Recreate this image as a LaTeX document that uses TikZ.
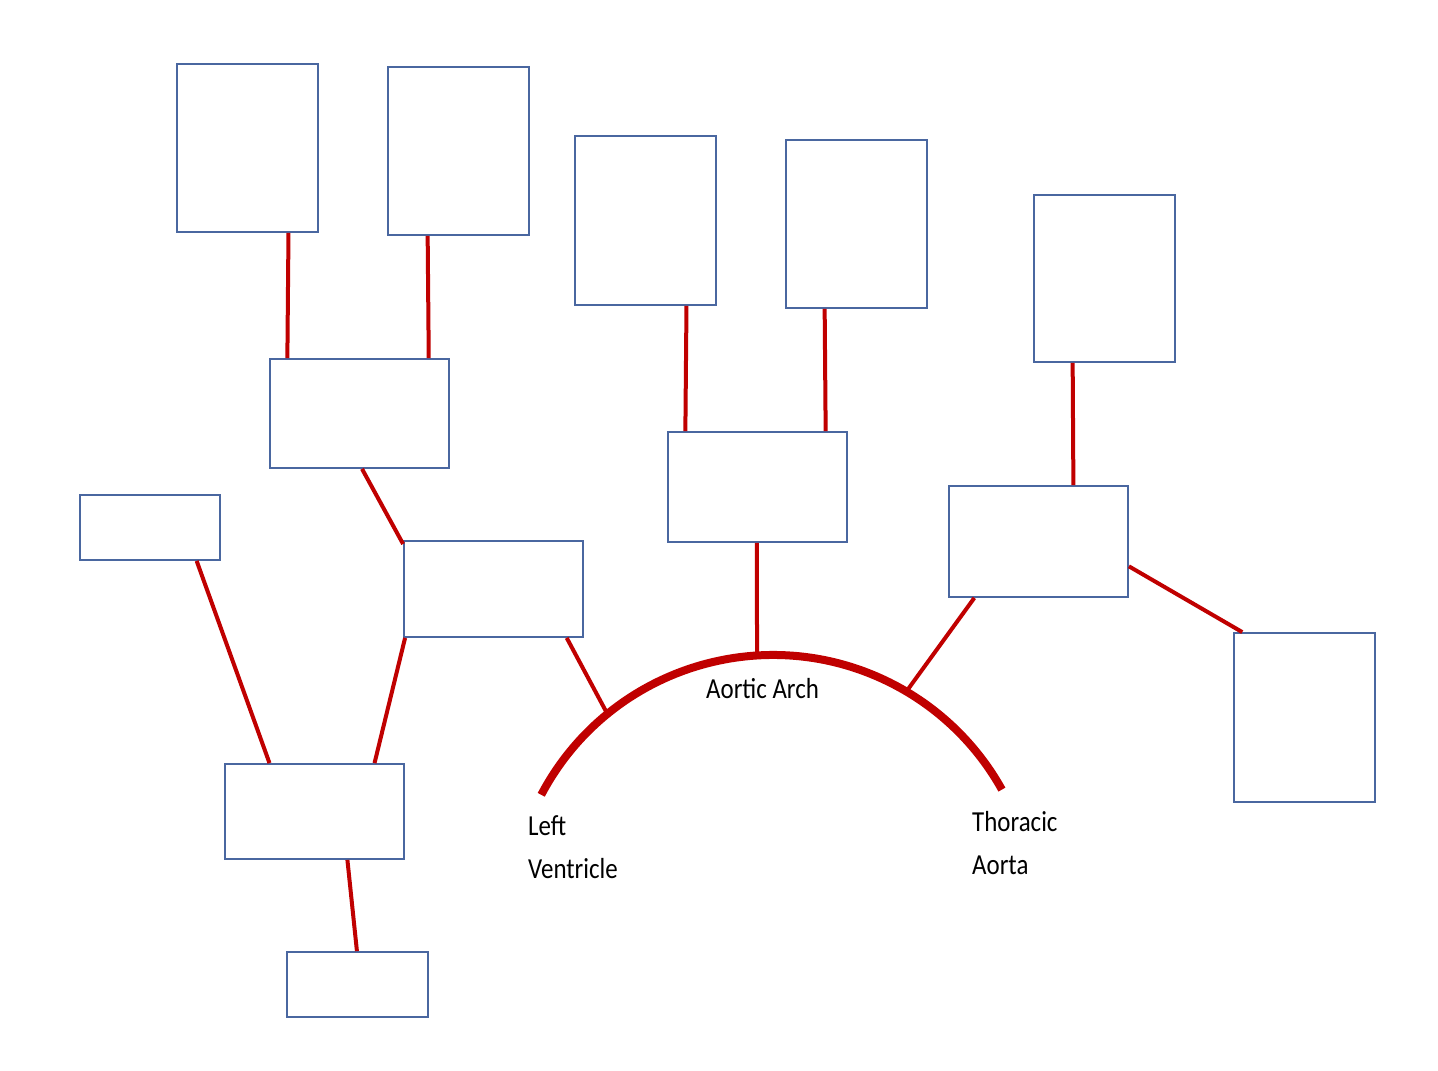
\documentclass[tikz,border=0pt]{standalone}
\usepackage{fontspec}
\setmainfont{Carlito}
\usetikzlibrary{calc}
\definecolor{boxblue}{HTML}{4A67A0}
\definecolor{vred}{HTML}{C00000}
\begin{document}
\begin{tikzpicture}[x=1pt,y=-1pt,
  box/.style={draw=boxblue, line width=1.8pt, fill=white, inner sep=0pt},
  vessel/.style={draw=vred, line width=4pt},
  arch/.style={draw=vred, line width=8pt},
  lbl/.style={inner sep=0pt, font=\fontsize{29}{43}\selectfont, align=left, xscale=0.86, transform shape}]
\useasboundingbox[fill=white] (0,0) rectangle (1438,1071);
% boxes
\node[box, minimum width=141pt, minimum height=168pt] (b1) at (247.5,148) {};
\node[box, minimum width=141pt, minimum height=168pt] (b2) at (458.5,151) {};
\node[box, minimum width=141pt, minimum height=169pt] (b3) at (645.5,220.5) {};
\node[box, minimum width=141pt, minimum height=168pt] (b4) at (856.5,224) {};
\node[box, minimum width=141pt, minimum height=167pt] (b5) at (1104.5,278.5) {};
\node[box, minimum width=179pt, minimum height=109pt] (b6) at (359.5,413.5) {};
\node[box, minimum width=179pt, minimum height=110pt] (b7) at (757.5,487) {};
\node[box, minimum width=179pt, minimum height=111pt] (b8) at (1038.5,541.5) {};
\node[box, minimum width=140pt, minimum height=65pt] (b9) at (150,527.5) {};
\node[box, minimum width=179pt, minimum height=96pt] (b10) at (493.5,589) {};
\node[box, minimum width=179pt, minimum height=95pt] (b11) at (314.5,811.5) {};
\node[box, minimum width=141pt, minimum height=65pt] (b12) at (357.5,984.5) {};
\node[box, minimum width=141pt, minimum height=169pt] (b13) at (1304.5,717.5) {};
% aortic arch
\coordinate (ac) at (773,917);
\coordinate (lv) at ($(ac)+(-152.2:262)$);
\coordinate (j1) at ($(ac)+(-129.2:262)$);
\coordinate (j2) at ($(ac)+(-93.5:262)$);
\coordinate (j3) at ($(ac)+(-59.4:262)$);
\draw[arch] (lv) arc[start angle=-152.2, end angle=-29.1, radius=262];
% connectors
\draw[vessel] ($(b1.south west)!0.787!(b1.south east)$) -- ($(b6.north west)!0.101!(b6.north east)$);
\draw[vessel] ($(b2.south west)!0.284!(b2.south east)$) -- ($(b6.north west)!0.883!(b6.north east)$);
\draw[vessel] ($(b3.south west)!0.787!(b3.south east)$) -- ($(b7.north west)!0.101!(b7.north east)$);
\draw[vessel] ($(b4.south west)!0.277!(b4.south east)$) -- ($(b7.north west)!0.877!(b7.north east)$);
\draw[vessel] ($(b5.south west)!0.277!(b5.south east)$) -- ($(b8.north west)!0.693!(b8.north east)$);
\draw[vessel] ($(b6.south west)!0.514!(b6.south east)$) -- ($(b10.north west)!0.04!(b10.south west)$);
\draw[vessel] ($(b7.south west)!0.497!(b7.south east)$) -- (j2);
\draw[vessel] ($(b8.south west)!0.145!(b8.south east)$) -- (j3);
\draw[vessel] ($(b8.north east)!0.72!(b8.south east)$) -- ($(b13.north west)!0.064!(b13.north east)$);
\draw[vessel] ($(b9.south west)!0.829!(b9.south east)$) -- ($(b11.north west)!0.251!(b11.north east)$);
\draw[vessel] ($(b10.south west)!0.011!(b10.south east)$) -- ($(b11.north west)!0.832!(b11.north east)$);
\draw[vessel] ($(b10.south west)!0.905!(b10.south east)$) -- (j1);
\draw[vessel] ($(b11.south west)!0.682!(b11.south east)$) -- ($(b12.north west)!0.496!(b12.north east)$);
% labels
\node[lbl, anchor=base west] (tarch) at (706,698) {Aortic Arch};
\node[lbl, anchor=base west] (tlv) at (528,878) {Left\\Ventricle};
\node[lbl, anchor=base west] (tta) at (972,874) {Thoracic\\Aorta};
\end{tikzpicture}
\end{document}
